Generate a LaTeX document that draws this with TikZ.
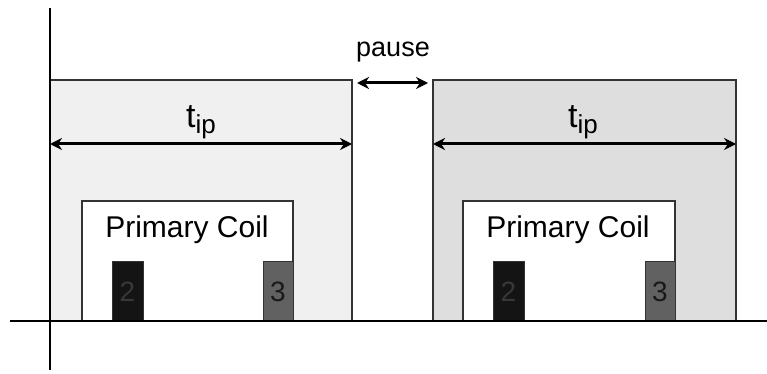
\documentclass[tikz,border=0pt]{standalone}
\usepackage{fontspec}
\setmainfont{Liberation Sans}
\usetikzlibrary{arrows.meta}
\begin{document}
\begin{tikzpicture}[x=1pt,y=-1pt,
  axis/.style={line width=1.2pt,black},
  pulse/.style={draw=black!80,line width=1.2pt},
  coilbox/.style={draw=black!80,fill=white,line width=1.2pt},
  blockdark/.style={draw=black!80,fill=black!92,line width=1pt},
  blockgray/.style={draw=black!80,fill=black!62,line width=1pt},
  dimarrow/.style={line width=3pt,{Stealth[length=12pt,width=12pt]}-{Stealth[length=12pt,width=12pt]}},
  lbl/.style={inner sep=0pt,font=\fontsize{30}{36}\selectfont},
  numlbl/.style={inner sep=0pt,font=\fontsize{28}{32}\selectfont}
]
\useasboundingbox (0,0) rectangle (767,374);
% pulses
\draw[pulse,fill=black!6] (50,80) rectangle (352,321);
\draw[pulse,fill=black!13] (433,80) rectangle (736,321);
% coils
\draw[coilbox] (82,201) rectangle (293,321);
\draw[coilbox] (463,201) rectangle (675,321);
\node[lbl] (pc1) at (187,230) {Primary Coil};
\node[lbl] (pc2) at (568,230) {Primary Coil};
% blocks
\draw[blockdark] (112,261) rectangle (143,321);
\node[numlbl,text=black!78] (n2a) at (127.5,292) {2};
\draw[blockgray] (263,261) rectangle (293,321);
\node[numlbl,text=black!90] (n3a) at (278,292) {3};
\draw[blockdark] (493,261) rectangle (524,321);
\node[numlbl,text=black!78] (n2b) at (508.5,292) {2};
\draw[blockgray] (645,261) rectangle (675,321);
\node[numlbl,text=black!90] (n3b) at (660,292) {3};
% axes
\coordinate (ytop) at (50,8);
\coordinate (ybot) at (50,370);
\coordinate (xl) at (10,321);
\coordinate (xr) at (767,321);
\draw[axis] (ytop) -- (ybot);
\draw[axis] (xl) -- (xr);
% dimension arrows
\coordinate (a1l) at (50,144);
\coordinate (a1r) at (352,144);
\coordinate (a2l) at (433,144);
\coordinate (a2r) at (736,144);
\coordinate (pl) at (357,83);
\coordinate (pr) at (428,83);
\draw[dimarrow] (a1l) -- (a1r);
\draw[dimarrow] (a2l) -- (a2r);
\draw[dimarrow] (pl) -- (pr);
\node[inner sep=0pt,anchor=base,font=\fontsize{34}{40}\selectfont] (t1) at (201,128) {t\raisebox{-0.3ex}{\fontsize{26}{30}\selectfont ip}};
\node[inner sep=0pt,anchor=base,font=\fontsize{34}{40}\selectfont] (t2) at (583,128) {t\raisebox{-0.3ex}{\fontsize{26}{30}\selectfont ip}};
\node[inner sep=0pt,font=\fontsize{27}{32}\selectfont] (pause) at (393,52) {pause};
\end{tikzpicture}
\end{document}
